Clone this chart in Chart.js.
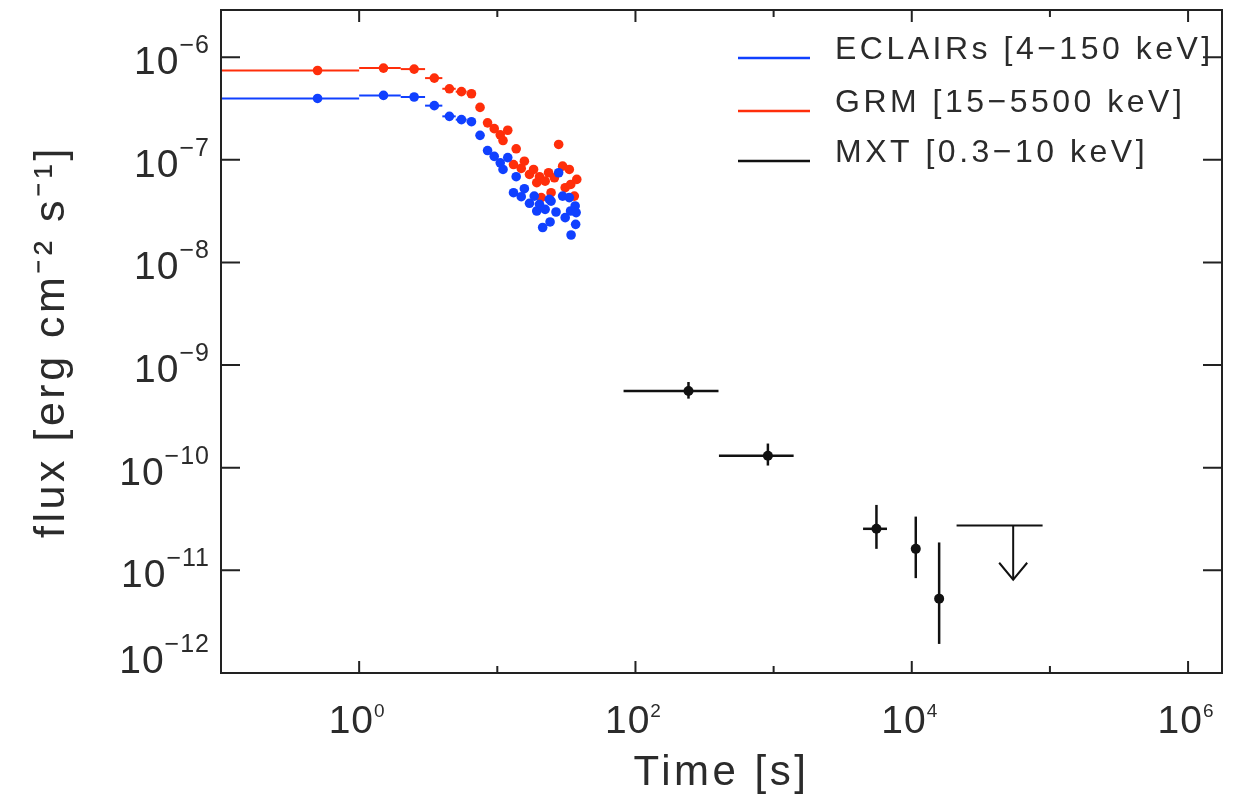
<!DOCTYPE html>
<html>
<head>
<meta charset="utf-8">
<script src="https://cdn.jsdelivr.net/npm/chart.js@4.4.1/dist/chart.umd.min.js"></script>
<style>
body{margin:0;background:#fff;}
</style>
</head>
<body>
<canvas id="lc" width="1236" height="800"></canvas>
<script>
// ECLAIRs [4-150 keV], 1 s bins (bin centre, flux)
let eclTime = [0.5, 1.5, 2.5, 3.5, 4.5, 5.5, 6.5, 7.5, 8.5, 9.5, 10.5, 11.0, 11.9, 13.1, 13.7, 14.9, 15.7, 17.1, 18.5, 19.3, 20.2, 21.3, 22.2, 23.8, 24.1, 24.5, 26.6, 27.8, 29.7, 31.0, 33.2, 33.9, 34.2, 36.6, 36.9, 37.2];
let eclFlux = [3.96e-7, 4.24e-7, 4.09e-7, 3.37e-7, 2.65e-7, 2.46e-7, 2.35e-7, 1.73e-7, 1.23e-7, 1.08e-7, 9.35e-8, 8.05e-8, 1.05e-7, 4.78e-8, 6.84e-8, 4.37e-8, 5.23e-8, 3.77e-8, 4.43e-8, 3.17e-8, 3.68e-8, 2.19e-8, 3.29e-8, 4.12e-8, 2.48e-8, 3.96e-8, 3.10e-8, 7.48e-8, 4.43e-8, 2.73e-8, 4.28e-8, 3.17e-8, 1.85e-8, 3.55e-8, 2.35e-8, 3.06e-8];

// GRM [15-5500 keV]
let grmTime = [0.5, 1.5, 2.5, 3.5, 4.5, 5.5, 6.5, 7.5, 8.5, 9.5, 10.5, 11.0, 11.9, 13.1, 13.7, 14.9, 15.7, 17.1, 18.3, 19.3, 20.2, 20.8, 22.2, 23.5, 24.5, 25.9, 27.8, 29.7, 31.0, 33.2, 34.0, 36.1, 37.6];
let grmFlux = [7.41e-7, 7.82e-7, 7.65e-7, 6.25e-7, 4.92e-7, 4.61e-7, 4.40e-7, 3.24e-7, 2.29e-7, 2.01e-7, 1.75e-7, 1.54e-7, 1.94e-7, 8.99e-8, 1.28e-7, 8.24e-8, 9.69e-8, 7.20e-8, 8.05e-8, 5.98e-8, 6.84e-8, 4.28e-8, 6.19e-8, 7.48e-8, 4.78e-8, 6.68e-8, 1.41e-7, 8.67e-8, 5.35e-8, 8.05e-8, 5.75e-8, 4.43e-8, 6.44e-8];
let binWidth = 1;

// MXT [0.3-10 keV]
let mxtTime   = [242, 909, 5550, 10690, 15780];
let mxtTimeLo = [82, 402, 4440, 10690, 15780];
let mxtTimeHi = [399, 1396, 6620, 10690, 15780];
let mxtFlux   = [5.6e-10, 1.31e-10, 2.54e-11, 1.62e-11, 5.3e-12];
let mxtFluxLo = [4.71e-10, 1.05e-10, 1.62e-11, 8.4e-12, 1.92e-12];
let mxtFluxHi = [6.84e-10, 1.72e-10, 4.34e-11, 3.34e-11, 1.87e-11];

// MXT upper limit
let ulTime = 54200, ulTimeLo = 21100, ulTimeHi = 88500;
let ulFlux = 2.74e-11, ulArrowTo = 8.1e-12;

let xTicks = [1, 10, 100, 1e3, 1e4, 1e5, 1e6];
let yTicks = [1e-12, 1e-11, 1e-10, 1e-9, 1e-8, 1e-7, 1e-6];

let seriesNames = ["ECLAIRs [4\u2212150 keV]", "GRM [15\u22125500 keV]", "MXT [0.3\u221210 keV]"];
let seriesColors = ["#1040ff", "#ff2e0a", "#111111"];

const FONT = "'Liberation Sans', Arial, sans-serif";
const TXT = "#2b2b2b";

function sup(n){
  const m = {"-":"\u207b","0":"\u2070","1":"\u00b9","2":"\u00b2","3":"\u00b3","4":"\u2074","5":"\u2075","6":"\u2076","7":"\u2077","8":"\u2078","9":"\u2079"};
  return String(n).split("").map(c => m[c]).join("");
}

function pairs(xs, ys){
  return xs.map((x, i) => ({x: x, y: ys[i]}));
}

const spacing = {
  id: "spacing",
  beforeLayout(chart){ chart.ctx.letterSpacing = "3.5px"; },
  beforeDraw(chart){ chart.ctx.letterSpacing = "3.5px"; }
};

const errorBars = {
  id: "errorBars",
  beforeDatasetsDraw(chart){
    const ctx = chart.ctx, xs = chart.scales.x, ys = chart.scales.y, a = chart.chartArea;
    ctx.save();
    ctx.beginPath();
    ctx.rect(a.left, a.top, a.right - a.left, a.bottom - a.top);
    ctx.clip();
    function line(x0, y0, x1, y1){
      ctx.beginPath(); ctx.moveTo(x0, y0); ctx.lineTo(x1, y1); ctx.stroke();
    }
    function bins(times, fluxes, color){
      ctx.strokeStyle = color; ctx.lineWidth = 2;
      times.forEach((t, i) => {
        const lo = Math.max(t - binWidth / 2, 0);
        const y = ys.getPixelForValue(fluxes[i]);
        line(xs.getPixelForValue(lo), y, xs.getPixelForValue(t + binWidth / 2), y);
      });
    }
    bins(grmTime, grmFlux, seriesColors[1]);
    bins(eclTime, eclFlux, seriesColors[0]);

    ctx.strokeStyle = seriesColors[2]; ctx.lineWidth = 2.5;
    mxtTime.forEach((t, i) => {
      const px = xs.getPixelForValue(t), py = ys.getPixelForValue(mxtFlux[i]);
      line(xs.getPixelForValue(mxtTimeLo[i]), py, xs.getPixelForValue(mxtTimeHi[i]), py);
      line(px, ys.getPixelForValue(mxtFluxHi[i]), px, ys.getPixelForValue(mxtFluxLo[i]));
    });

    // upper limit with arrow
    const uy = ys.getPixelForValue(ulFlux), ux = xs.getPixelForValue(ulTime);
    const tip = ys.getPixelForValue(ulArrowTo);
    ctx.lineWidth = 2;
    line(xs.getPixelForValue(ulTimeLo), uy, xs.getPixelForValue(ulTimeHi), uy);
    line(ux, uy, ux, tip);
    ctx.beginPath();
    ctx.moveTo(ux - 14, tip - 17);
    ctx.lineTo(ux, tip);
    ctx.lineTo(ux + 14, tip - 17);
    ctx.stroke();
    ctx.restore();
  }
};

// 10^n label with a raised exponent
function powLabel(ctx, x, y, e, mainSize, expSize, rise, align){
  const ex = (e < 0 ? "\u2212" : "") + Math.abs(e);
  ctx.font = mainSize + "px " + FONT;
  const w1 = ctx.measureText("10").width;
  ctx.font = expSize + "px " + FONT;
  const w2 = ctx.measureText(ex).width;
  const x0 = align === "right" ? x - w1 - w2 : x - (w1 + w2) / 2;
  ctx.textAlign = "left";
  ctx.textBaseline = "alphabetic";
  ctx.font = mainSize + "px " + FONT;
  ctx.fillText("10", x0, y);
  ctx.font = expSize + "px " + FONT;
  ctx.fillText(ex, x0 + w1, y - rise);
}

const frame = {
  id: "frame",
  afterDraw(chart){
    const ctx = chart.ctx, a = chart.chartArea, xs = chart.scales.x, ys = chart.scales.y;
    ctx.save();
    ctx.strokeStyle = "#222";
    ctx.lineWidth = 2;
    ctx.strokeRect(a.left, a.top, a.right - a.left, a.bottom - a.top);
    ctx.beginPath();
    xs.ticks.forEach(t => {
      const x = xs.getPixelForValue(t.value);
      const len = Math.round(Math.log10(t.value)) % 2 === 0 ? 12 : 7;
      ctx.moveTo(x, a.bottom); ctx.lineTo(x, a.bottom - len);
      ctx.moveTo(x, a.top); ctx.lineTo(x, a.top + len);
    });
    ys.ticks.forEach(t => {
      const y = ys.getPixelForValue(t.value);
      ctx.moveTo(a.left, y); ctx.lineTo(a.left + 19, y);
      ctx.moveTo(a.right, y); ctx.lineTo(a.right - 19, y);
    });
    ctx.stroke();

    // tick labels
    ctx.fillStyle = TXT;
    ctx.letterSpacing = "1px";
    xs.ticks.forEach(t => {
      const e = Math.round(Math.log10(t.value));
      if (e % 2 !== 0) return;
      powLabel(ctx, xs.getPixelForValue(t.value) - 2, a.bottom + 60, e, 39, 19, 16, "center");
    });
    ys.ticks.forEach(t => {
      const e = Math.round(Math.log10(t.value));
      const y = ys.getPixelForValue(t.value);
      powLabel(ctx, a.left - 11, Math.min(y + 17, a.bottom), e, 39, 25, 21, "right");
    });

    // legend
    ctx.letterSpacing = "3.5px";
    ctx.font = "32px " + FONT;
    ctx.textAlign = "left";
    ctx.textBaseline = "alphabetic";
    const rows = [48, 101, 151];
    seriesNames.forEach((name, i) => {
      const y = a.top + rows[i];
      ctx.strokeStyle = seriesColors[i];
      ctx.lineWidth = 2.5;
      ctx.beginPath();
      ctx.moveTo(a.right - 484, y); ctx.lineTo(a.right - 412, y);
      ctx.stroke();
      ctx.fillText(name, a.right - 387, y + 1);
    });
    ctx.restore();
  }
};

const ctx = document.getElementById("lc").getContext("2d");

new Chart(ctx, {
  type: "scatter",
  data: {
    datasets: [
      {label: seriesNames[0], data: pairs(eclTime, eclFlux), backgroundColor: seriesColors[0], borderColor: seriesColors[0], pointRadius: 4.8, pointBorderWidth: 0},
      {label: seriesNames[1], data: pairs(grmTime, grmFlux), backgroundColor: seriesColors[1], borderColor: seriesColors[1], pointRadius: 4.8, pointBorderWidth: 0},
      {label: seriesNames[2], data: pairs(mxtTime, mxtFlux), backgroundColor: seriesColors[2], borderColor: seriesColors[2], pointRadius: 5, pointBorderWidth: 0}
    ]
  },
  options: {
    responsive: false,
    animation: false,
    layout: {padding: {top: 10, right: 14, left: 0, bottom: 0}},
    plugins: {legend: {display: false}, tooltip: {enabled: false}},
    scales: {
      x: {
        type: "logarithmic",
        min: 0.1,
        max: 1.76e6,
        afterBuildTicks: s => { s.ticks = xTicks.map(v => ({value: v})); },
        afterFit: s => { s.height = 127; s.paddingLeft = 0; s.paddingRight = 0; },
        grid: {display: false, drawTicks: false},
        border: {display: false},
        ticks: {display: false},
        title: {display: true, text: "Time [s]", color: TXT, font: {family: FONT, size: 42}, padding: {bottom: 1}}
      },
      y: {
        type: "logarithmic",
        min: 1e-12,
        max: 2.88e-6,
        afterBuildTicks: s => { s.ticks = yTicks.map(v => ({value: v})); },
        afterFit: s => { s.width = 221; s.paddingTop = 0; s.paddingBottom = 0; },
        grid: {display: false, drawTicks: false},
        border: {display: false},
        ticks: {display: false},
        title: {display: true, text: "flux [erg cm" + sup(-2) + " s" + sup(-1) + "]", color: TXT, font: {family: FONT, size: 43}, padding: {top: 26}}
      }
    }
  },
  plugins: [spacing, errorBars, frame]
});
</script>
</body>
</html>
